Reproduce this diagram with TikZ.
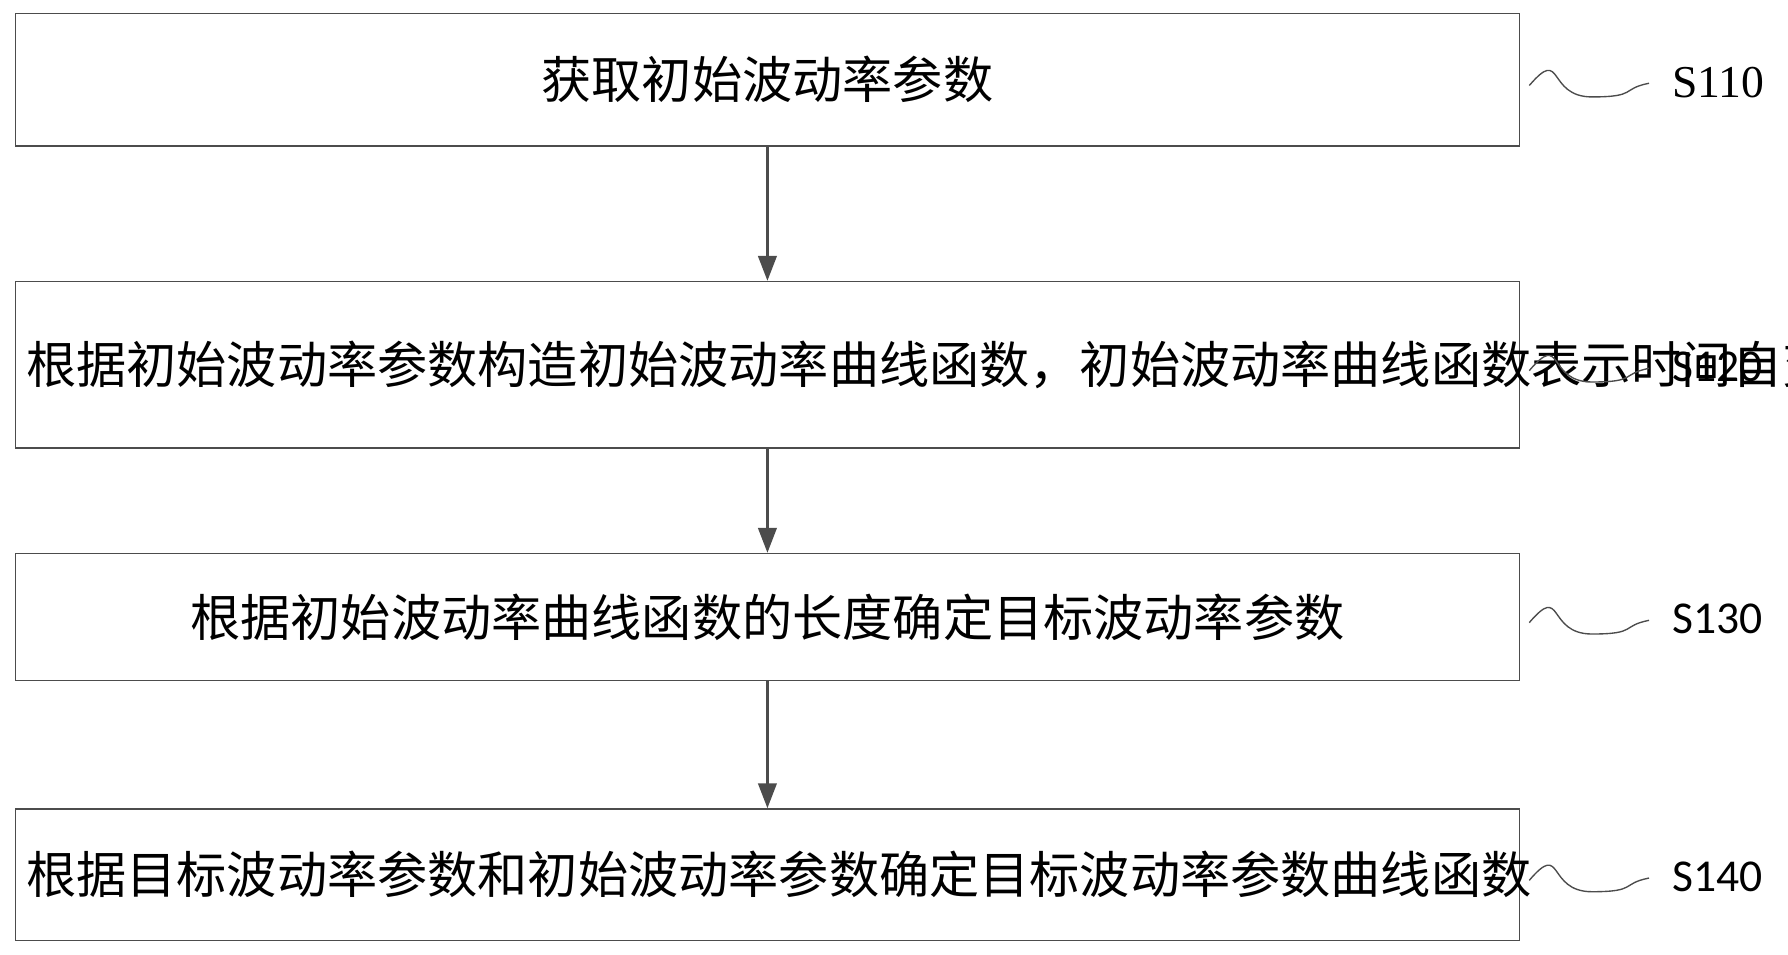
\documentclass[tikz,border=0pt]{standalone}
\usepackage{fontspec}
\setmainfont{Liberation Serif}
\newfontfamily\cjk{Noto Sans CJK SC}
\newfontfamily\lbl{Carlito}
\usetikzlibrary{arrows.meta}
\tikzset{
  stepbox/.style={draw=black!70, line width=1.2pt, minimum width=1319pt, align=center,
    text width=1300pt, font=\cjk\fontsize{44pt}{53pt}\selectfont, inner sep=0pt},
  flow/.style={-{Triangle[length=22pt,width=16pt]}, line width=3pt, black!70},
  wave/.style={line width=1.2pt, black!70},
}
\begin{document}
\begin{tikzpicture}[x=1pt,y=-1pt]
\useasboundingbox (0,0) rectangle (1568,837);

% steps
\node [stepbox, minimum height=116pt] (s1) at (673,70) {获取初始波动率参数};
\node [stepbox, minimum height=146pt] (s2) at (673,320) {根据初始波动率参数构造初始波动率曲线函数，初始波动率曲线函数表示时间自变量与波动率的关系};
\node [stepbox, minimum height=111pt] (s3) at (673,541) {根据初始波动率曲线函数的长度确定目标波动率参数};
\node [stepbox, minimum height=115pt] (s4) at (673,767) {根据目标波动率参数和初始波动率参数确定目标波动率参数曲线函数};

% links
\draw [flow] (s1.south) -- (s2.north);
\draw [flow] (s2.south) -- (s3.north);
\draw [flow] (s3.south) -- (s4.north);

% labels
\foreach \n/\t/\f in {s1/S110/\rmfamily, s2/S120/\lbl, s3/S130/\lbl, s4/S140/\lbl} {
  \coordinate (w0) at ([xshift=8pt,yshift=-5pt]\n.east);
  \draw [wave] (w0) .. controls +(30,-35) and +(-40,0) .. +(55,10) .. controls +(40,0) and +(-25,5) .. +(105,-2);
  \node [font=\f\fontsize{40pt}{44pt}\selectfont, anchor=west] (l\n) at ([xshift=130pt,yshift=-2pt]\n.east) {\t};
}
\end{tikzpicture}
\end{document}
